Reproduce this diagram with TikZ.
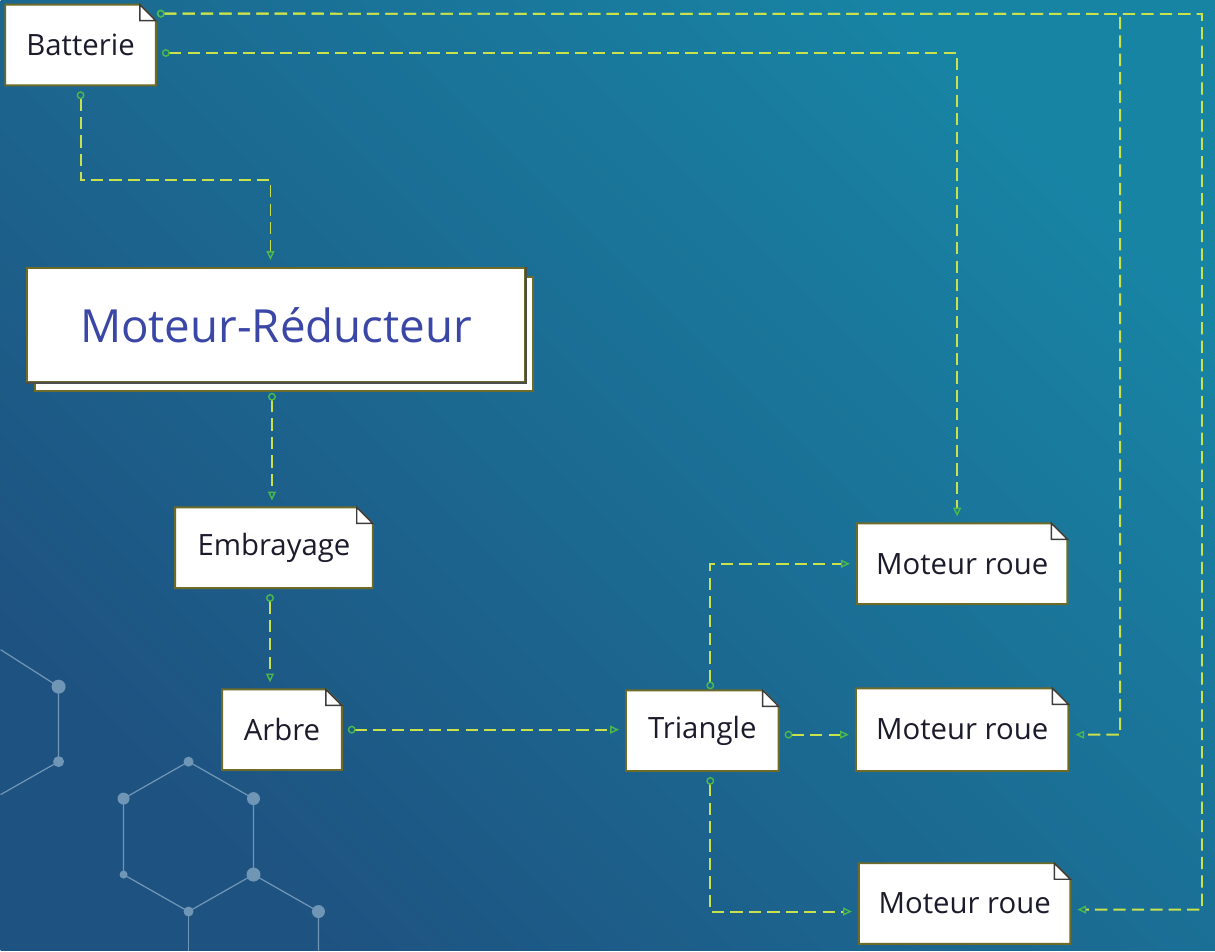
\documentclass[tikz,border=0pt]{standalone}
\usepackage{fontspec}
\setmainfont{Open Sans}
\usetikzlibrary{arrows.meta, calc, positioning}

\definecolor{bgdark}{HTML}{1E5281}
\definecolor{bglight}{HTML}{1884A4}
\definecolor{wire}{HTML}{C9E24C}
\definecolor{tipgreen}{HTML}{4CBA4A}
\definecolor{noteedge}{HTML}{6E6A28}
\definecolor{foldgray}{HTML}{3C3C3C}
\definecolor{notetext}{HTML}{1B1B2B}
\definecolor{mrblue}{HTML}{3B47A6}
\definecolor{hexgray}{HTML}{7096B6}

\pgfdeclarelayer{bg}
\pgfdeclarelayer{background}
\pgfsetlayers{bg,background,main}

% white note with a folded top right corner, behind node #1
\newcommand{\foldnote}[1]{%
  \begin{pgfonlayer}{background}
    \filldraw[noteframe] (#1.north west) -- ([xshift=-0.32cm]#1.north east)
      -- ([yshift=-0.32cm]#1.north east) -- (#1.south east) -- (#1.south west) -- cycle;
    \filldraw[notefold] ([xshift=-0.32cm]#1.north east)
      -- ([xshift=-0.32cm,yshift=-0.32cm]#1.north east) -- ([yshift=-0.32cm]#1.north east) -- cycle;
  \end{pgfonlayer}}

\begin{document}
\begin{tikzpicture}[
    x=0.02cm, y=-0.02cm,
    note/.style={font=\fontsize{16.7}{20}\selectfont, text=notetext, inner sep=0pt, minimum height=1.6cm},
    noteframe/.style={draw=noteedge, fill=white, line width=1.1pt, line join=miter},
    notefold/.style={draw=foldgray, fill=white, line width=0.8pt},
    link/.style={draw=wire, line width=1.1pt, dash pattern=on 7pt off 3.5pt,
      {Circle[open, length=4.5pt, color=tipgreen, line width=0.8pt]}-{Triangle[open, length=5pt, width=4.5pt, color=tipgreen, line width=0.8pt]},
      shorten <=0.12cm, shorten >=0.14cm},
    hexline/.style={draw=hexgray, line width=0.7pt}
]
% Background
\begin{pgfonlayer}{bg}
  \shade[top color=bglight, bottom color=bgdark, shading angle=-45] (0,0) rectangle (1215,951);
\end{pgfonlayer}

% Hexagon decoration
\draw[hexline] (0,650) -- (58,687) -- (58,762) -- (0,795);
\draw[hexline] (188,762) -- (253,799) -- (253,875) -- (188,912) -- (123,875) -- (123,799) -- cycle;
\draw[hexline] (253,875) -- (318,912) -- (318,951);
\draw[hexline] (188,912) -- (188,951);
\foreach \x/\y/\r in {58/687/7, 58/762/5.5, 188/762/5, 123/799/6, 253/799/6.5,
                      123/875/4, 253/875/7, 188/912/5, 318/912/6.5}
    \fill[hexgray] (\x,\y) circle[radius=\r];

% Blocks
\node[note, minimum width=3cm] (bat) at (80,45) {Batterie};
\begin{pgfonlayer}{background}
  \filldraw[noteframe] (34,277) rectangle (533,391);
\end{pgfonlayer}
\node[font=\fontsize{26}{31}\selectfont, text=mrblue, draw=noteedge, fill=white, line width=1.1pt,
      minimum width=9.98cm, minimum height=2.28cm] (mr) at (275.5,325) {Moteur-Réducteur};
\draw[gray!60!black, line width=1pt] (mr.north east) -- (mr.south east) -- (mr.south west);
\node[note, minimum width=3.94cm] (emb) at (273.5,548) {Embrayage};
\node[note, minimum width=2.38cm] (arb) at (281.5,730) {Arbre};
\node[note, minimum width=3.04cm] (tri) at (702,731) {Triangle};
\node[note, minimum width=4.2cm] (roue1) at (962,564) {Moteur roue};
\node[note, minimum width=4.24cm, minimum height=1.64cm] (roue2) at (962,730) {Moteur roue};
\node[note, minimum width=4.22cm] (roue3) at (964.5,904) {Moteur roue};
\foreach \n in {bat, emb, arb, tri, roue1, roue2, roue3}
    {\foldnote{\n}}

% Bus corners on the right
\coordinate (busm) at (1120,14);
\coordinate (busr) at (1202,14);

% Connections
\draw[link] (bat.south) -- ++(0,95) -| ([xshift=-0.11cm]mr.north);
\draw[link, shorten <=0.2cm] ([xshift=-0.08cm]mr.south) -- ([xshift=-0.08cm]mr.south |- emb.north);
\draw[link] ([xshift=-0.08cm]emb.south) -- ([xshift=-0.08cm]emb.south |- arb.north);
\draw[link] (arb.east) -- (arb.east -| tri.west);
\draw[link, shorten <=0.02cm] ([xshift=0.16cm]tri.north) |- (roue1.west);
\draw[link] ([yshift=-0.08cm]tri.east) -- ([yshift=-0.08cm]tri.east -| roue2.west);
\draw[link] ([xshift=0.16cm]tri.south) |- ([yshift=-0.16cm]roue3.west);
\draw[link] ([yshift=-0.16cm]bat.east) -| ([xshift=-0.1cm]roue1.north);
\draw[link, shorten <=0.02cm] ([yshift=-0.18cm]bat.north east) -- (busr) |- ([yshift=-0.12cm]roue3.east);
\draw[link, shorten <=0.02cm] ([yshift=-0.18cm]bat.north east) -- (busm) |- ([yshift=-0.1cm]roue2.east);
\end{tikzpicture}
\end{document}
